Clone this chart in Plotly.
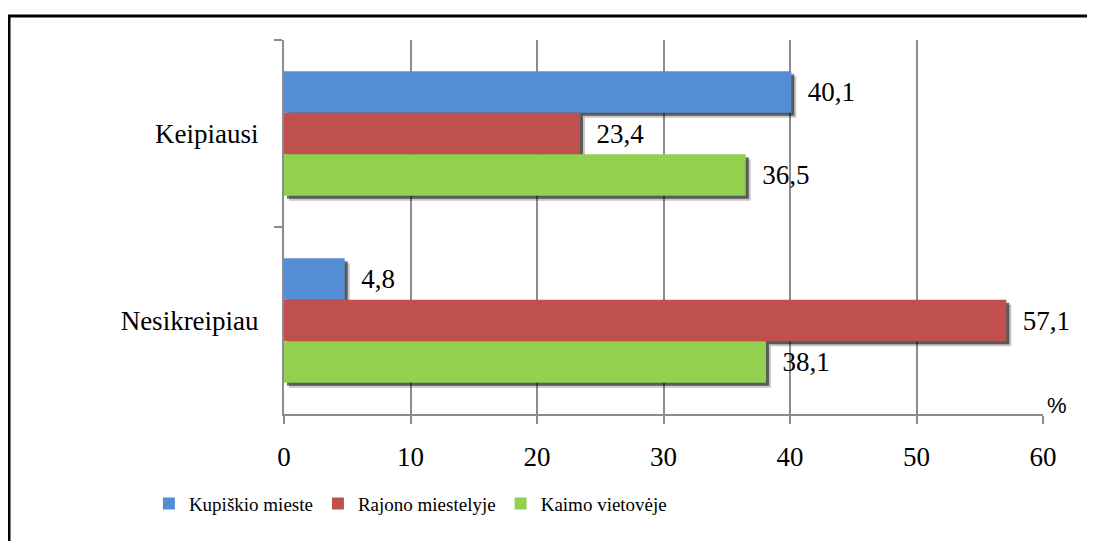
import plotly.graph_objects as go

categories = ["Keipiausi", "Nesikreipiau"]
series_names = ["Kupiškio mieste", "Rajono miestelyje", "Kaimo vietovėje"]
kupiskio = [40.1, 4.8]
rajono = [23.4, 57.1]
kaimo = [36.5, 38.1]
x_ticks = [0, 10, 20, 30, 40, 50, 60]

series = [kupiskio, rajono, kaimo]
colors = ["#548DD4", "#C0504D", "#92D050"]
SERIF = "Liberation Serif"

W, H = 1087, 533
ML, MR, MT, MB = 276, 52, 32, 127
pw = W - ML - MR
ph = H - MT - MB
xmax = 60
px_per_unit_x = pw / xmax
px_per_cat = ph / 2

bar_w = 0.222
offsets = [-0.333, -0.111, 0.111]

fig = go.Figure()

# soft drop shadows behind the bars
for dxp, dyp, col in [(5, 5, "rgba(0,0,0,0.22)"), (3, 3, "rgba(0,0,0,0.55)")]:
    for vals, off in zip(series, offsets):
        fig.add_trace(go.Bar(
            y=categories, x=vals, base=[dxp / px_per_unit_x] * len(vals),
            orientation="h", width=bar_w, offset=off + dyp / px_per_cat,
            marker=dict(color=col, line=dict(width=0)),
            showlegend=False, hoverinfo="skip",
        ))

for name, vals, off, col in zip(series_names, series, offsets, colors):
    fig.add_trace(go.Bar(
        y=categories, x=vals, orientation="h", name=name,
        width=bar_w, offset=off,
        marker=dict(color=col, line=dict(width=0)),
        text=["  " + f"{v:.1f}".replace(".", ",") for v in vals],
        textposition="outside", cliponaxis=False, constraintext="none",
        textfont=dict(family=SERIF, size=27, color="black"),
    ))

fig.update_layout(
    width=W, height=H,
    margin=dict(l=ML, r=MR, t=MT, b=MB),
    paper_bgcolor="white", plot_bgcolor="white",
    barmode="overlay",
    font=dict(family=SERIF, size=27, color="black"),
    showlegend=True,
    legend=dict(
        orientation="h", x=-0.178, xanchor="left", y=-0.24, yanchor="middle",
        font=dict(family=SERIF, size=19, color="black"),
        itemwidth=30, traceorder="normal", bgcolor="rgba(0,0,0,0)",
    ),
    xaxis=dict(
        range=[0, xmax], tickvals=x_ticks, ticktext=[str(t) for t in x_ticks],
        showgrid=True, gridcolor="#8C8C8C", gridwidth=1.5,
        showline=True, linecolor="#8C8C8C", linewidth=2,
        ticks="outside", ticklen=8, tickcolor="#8C8C8C", tickwidth=2,
        zeroline=False, ticklabelstandoff=10,
        tickfont=dict(family=SERIF, size=27, color="black"),
    ),
    yaxis=dict(
        type="category", categoryorder="array", categoryarray=categories,
        range=[1.5, -0.5],
        showgrid=False, showline=True, linecolor="#8C8C8C", linewidth=2,
        ticks="outside", ticklen=8, tickcolor="#8C8C8C", tickwidth=2,
        tickson="boundaries", ticklabelstandoff=18,
        tickfont=dict(family=SERIF, size=27, color="black"),
    ),
    annotations=[dict(
        text="%", xref="paper", yref="paper", x=1, y=0,
        xanchor="left", yanchor="bottom", xshift=2, yshift=-6,
        showarrow=False,
        font=dict(family="Liberation Sans", size=22, color="black"),
    )],
    shapes=[dict(
        type="rect", xref="paper", yref="paper",
        x0=(1 - ML) / pw, x1=(W + 10 - ML) / pw,
        y0=(H - MB - (H + 10)) / ph, y1=(H - MB - 8) / ph,
        line=dict(color="black", width=3), fillcolor="rgba(0,0,0,0)",
        layer="below",
    )],
)

fig.write_html("out.html")
